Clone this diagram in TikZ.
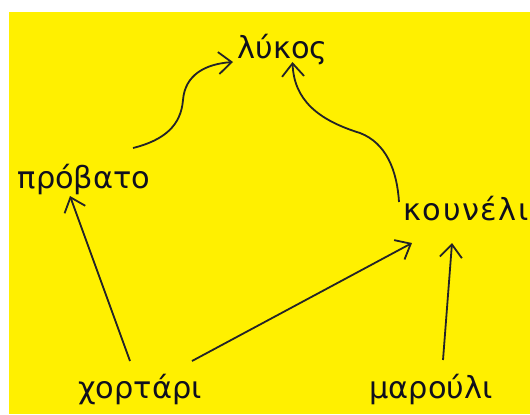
\documentclass[tikz,border=0pt]{standalone}
\usepackage{fontspec}
\setmainfont{DejaVu Sans}
\usetikzlibrary{arrows.meta}
\definecolor{bgyellow}{RGB}{255,240,0}
\definecolor{inkc}{RGB}{15,15,30}
\definecolor{linec}{RGB}{35,35,40}
\tikzset{
  lbl/.style={anchor=base, inner sep=0pt, text=inkc, font=\fontsize{30.5}{32}\selectfont},
  conn/.style={draw=linec, line width=1.8bp,
    -{Straight Barb[length=13bp,width=22bp,line width=1.8bp]}}
}
\begin{document}
\begin{tikzpicture}[x=1bp,y=-1bp]
\useasboundingbox (0,0) rectangle (530,414);
\fill[white] (0,0) rectangle (530,414);
\fill[bgyellow] (9,12) rectangle (530,414);
\node[lbl] (lykos) at (282.5,58) {λύκος};
\node[lbl] (probato) at (84,188) {πρόβατο};
\node[lbl] (kouneli) at (466,220) {\addfontfeature{LetterSpace=5}κουνέλι};
\node[lbl] (horta) at (140,398) {χορτάρι};
\node[lbl] (marouli) at (431,398) {μαρούλι};
% sheep -> wolf
\draw[conn] ([shift={(49,-40)}]probato.base)
  .. controls (165,140) and (181,125) .. (183,100)
  .. controls (185,75) and (205,64) .. ([shift={(-49.5,4)}]lykos.base);
% rabbit -> wolf
\draw[conn] ([shift={(-67,-18)}]kouneli.base)
  .. controls (397,170) and (386,143) .. (360,133)
  .. controls (318,120) and (294,100) .. ([shift={(10,4)}]lykos.base);
% grass -> sheep
\draw[conn] ([shift={(-10,-37)}]horta.base) -- ([shift={(-14,8)}]probato.base);
% grass -> rabbit
\draw[conn] ([shift={(52,-37)}]horta.base) -- ([shift={(-54,23)}]kouneli.base);
% lettuce -> rabbit
\draw[conn] ([shift={(12,-38)}]marouli.base) -- ([shift={(-14,23)}]kouneli.base);
\end{tikzpicture}
\end{document}
